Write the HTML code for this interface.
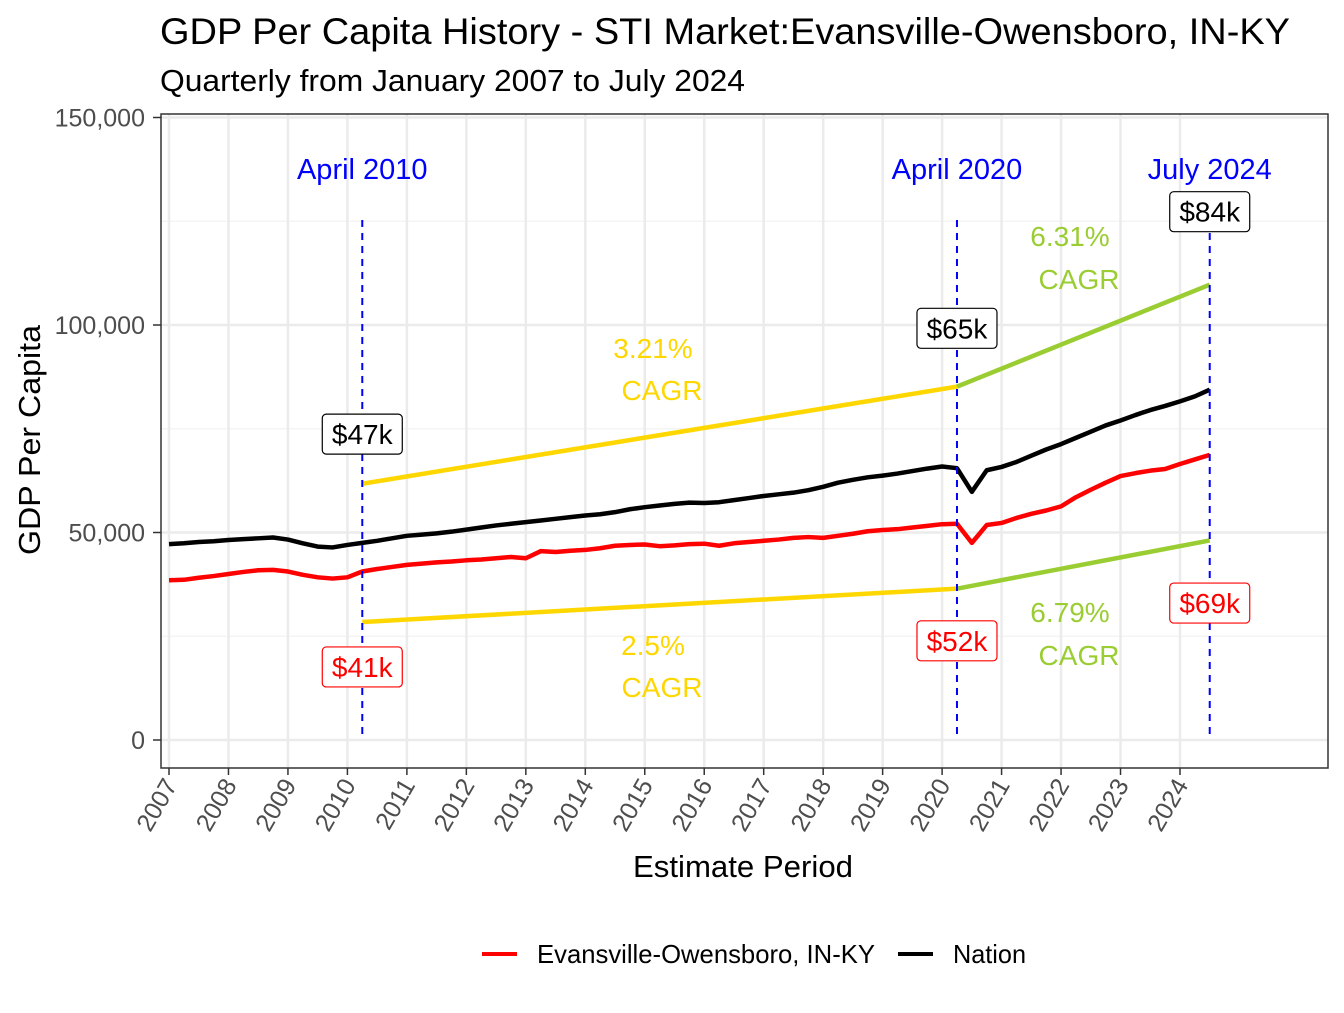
<!DOCTYPE html>
<html><head><meta charset="utf-8"><style>
body{margin:0;background:#fff;}
svg text{font-family:"Liberation Sans",Arial,sans-serif;}
</style></head><body>
<svg id="chart" width="1344" height="1008" xmlns="http://www.w3.org/2000/svg">
<text x="160" y="44" font-size="37" textLength="1130" lengthAdjust="spacingAndGlyphs" fill="#000">GDP Per Capita History - STI Market:Evansville-Owensboro, IN-KY</text>
<text x="160" y="91" font-size="31" textLength="585" lengthAdjust="spacingAndGlyphs" fill="#000">Quarterly from January 2007 to July 2024</text>
<g id="grid"></g>
<rect x="161" y="114" width="1167" height="654" fill="none" stroke="#333" stroke-width="1.5"/>
<g id="marks"></g>
<g id="axes"></g>
<text x="743" y="877" font-size="31" textLength="220" lengthAdjust="spacingAndGlyphs" text-anchor="middle" fill="#000">Estimate Period</text>
<text transform="translate(40,440) rotate(-90)" font-size="31" textLength="230" lengthAdjust="spacingAndGlyphs" text-anchor="middle" fill="#000">GDP Per Capita</text>
<g>
<line x1="482" y1="954" x2="517" y2="954" stroke="#ff0000" stroke-width="4"/>
<text x="537" y="963" font-size="26" textLength="338" lengthAdjust="spacingAndGlyphs">Evansville-Owensboro, IN-KY</text>
<line x1="898" y1="954" x2="933" y2="954" stroke="#000" stroke-width="4"/>
<text x="953" y="963" font-size="26" textLength="73" lengthAdjust="spacingAndGlyphs">Nation</text>
</g>
</svg>
<script>
const years=[2007,2008,2009,2010,2011,2012,2013,2014,2015,2016,2017,2018,2019,2020,2021,2022,2023,2024];
const yTicks=[0,50000,100000,150000];
const nation=[47.2,47.4,47.7,47.9, 48.2,48.4,48.6,48.8, 48.3,47.4,46.6,46.4, 47.0,47.5,48.0,48.6, 49.2,49.5,49.8,50.2, 50.7,51.2,51.7,52.1, 52.5,52.9,53.3,53.7, 54.1,54.4,54.9,55.6, 56.1,56.5,56.9,57.2, 57.1,57.3,57.8,58.3, 58.8,59.2,59.6,60.2, 61.0,62.0,62.7,63.3, 63.7,64.2,64.8,65.4, 65.9,65.5,59.8,65.0, 65.8,67.0,68.5,70.0, 71.3,72.8,74.3,75.8, 77.0,78.3,79.5,80.5, 81.6,82.8,84.4];
const region=[38.5,38.6,39.1,39.5, 40.0,40.5,40.9,41.0, 40.6,39.8,39.2,38.9, 39.2,40.6,41.2,41.7, 42.2,42.5,42.8,43.0, 43.3,43.5,43.8,44.1, 43.8,45.5,45.3,45.6, 45.8,46.2,46.8,47.0, 47.1,46.7,46.9,47.2, 47.3,46.8,47.4,47.7, 48.0,48.3,48.7,48.9, 48.7,49.2,49.7,50.3, 50.6,50.8,51.2,51.6, 52.0,52.1,47.5,51.8, 52.3,53.5,54.5,55.3, 56.3,58.5,60.3,62.0, 63.6,64.3,64.9,65.3, 66.5,67.6,68.7];
const eventIdx=[13,53,70];
const eventLabels=["April 2010","April 2020","July 2024"];
const nationLabels=["$47k","$65k","$84k"];
const regionLabels=["$41k","$52k","$69k"];
const nationLabelY=[73.7,99.2,127.3];
const regionLabelY=[17.6,23.9,33.0];
const cagrUpper=["3.21%","6.31%"];
const cagrLower=["2.5%","6.79%"];
const NS="http://www.w3.org/2000/svg";
const X=t=>169+(t-2007)*59.47;
const Y=v=>740-v/50000*207.5;
const tq=i=>2007+i*0.25;
function mk(parent,tag,attrs){const e=document.createElementNS(NS,tag);for(const k in attrs)e.setAttribute(k,attrs[k]);document.getElementById(parent).appendChild(e);return e;}
for(const v of [25000,75000,125000]){const l=mk('grid','line',{x1:161,x2:1328,y1:Y(v),y2:Y(v),stroke:'#f2f2f2','stroke-width':1.2});

}
for(const v of yTicks){const l=mk('grid','line',{x1:161,x2:1328,y1:Y(v),y2:Y(v),stroke:'#ebebeb','stroke-width':2.5});

}
for(const yr of years){const l=mk('grid','line',{x1:X(yr),x2:X(yr),y1:114,y2:768,stroke:'#ebebeb','stroke-width':2.5});

}
for(const v of yTicks){const t=mk('axes','line',{x1:153,x2:161,y1:Y(v),y2:Y(v),stroke:'#333','stroke-width':1.5});


const s=mk('axes','text',{x:145,y:Y(v)+9,'font-size':25,'text-anchor':'end',fill:'#4d4d4d'});s.textContent=v.toLocaleString('en-US');

}
for(const yr of years){const t=mk('axes','line',{x1:X(yr),x2:X(yr),y1:768,y2:775,stroke:'#333','stroke-width':1.5});


const s=mk('axes','text',{transform:`translate(${X(yr)+9},${785}) rotate(-60)`,'font-size':25,'text-anchor':'end',fill:'#4d4d4d'});s.textContent=yr;

}
function seg(a,b,f,arr,col,name){const l=mk('marks','line',{x1:X(tq(a)),y1:Y(arr[a]*f*1000),x2:X(tq(b)),y2:Y(arr[b]*f*1000),stroke:col,'stroke-width':4.5});

}
seg(eventIdx[0],eventIdx[1],1.3,nation,'#ffd700','cagr-upper-2010-2020');
seg(eventIdx[1],eventIdx[2],1.3,nation,'#9acd32','cagr-upper-2020-2024');
seg(eventIdx[0],eventIdx[1],0.7,region,'#ffd700','cagr-lower-2010-2020');
seg(eventIdx[1],eventIdx[2],0.7,region,'#9acd32','cagr-lower-2020-2024');
function series(arr,col,name){const p=mk('marks','polyline',{points:arr.map((v,i)=>X(tq(i))+','+Y(v*1000)).join(' '),fill:'none',stroke:col,'stroke-width':4.5,'stroke-linejoin':'round'});

}
series(nation,'#000','nation-line');
series(region,'#ff0000','region-line');
eventIdx.forEach((ix,k)=>{const x=X(tq(ix));
const l=mk('marks','line',{x1:x,x2:x,y1:220,y2:740,stroke:'#0000ff','stroke-width':2,'stroke-dasharray':'7,6'});


const t=mk('marks','text',{x:x,y:179,'font-size':29,'text-anchor':'middle',fill:'#0000ff'});t.textContent=eventLabels[k];


[[nationLabels[k],nationLabelY[k],'#000','nation-value-label'],[regionLabels[k],regionLabelY[k],'#ff0000','region-value-label']].forEach(([txt,v,c,n])=>{
const cy=Y(v*1000);
const r=mk('marks','rect',{x:x-40,y:cy-20,width:80,height:40,rx:4,fill:'#fff',stroke:c,'stroke-width':1.2});


const s=mk('marks','text',{x:x,y:cy+10,'font-size':28,'text-anchor':'middle',fill:c});s.textContent=txt;

});
});
function ct(x,y,txt,col){const s=mk('marks','text',{x:x,y:y,'font-size':28,'text-anchor':'middle',fill:col});s.textContent=txt;

}
ct(653,358,cagrUpper[0],'#ffd700');ct(662,400,'CAGR','#ffd700');
ct(653,655,cagrLower[0],'#ffd700');ct(662,697,'CAGR','#ffd700');
ct(1070,246,cagrUpper[1],'#9acd32');ct(1079,289,'CAGR','#9acd32');
ct(1070,622,cagrLower[1],'#9acd32');ct(1079,665,'CAGR','#9acd32');
</script>
</body></html>
